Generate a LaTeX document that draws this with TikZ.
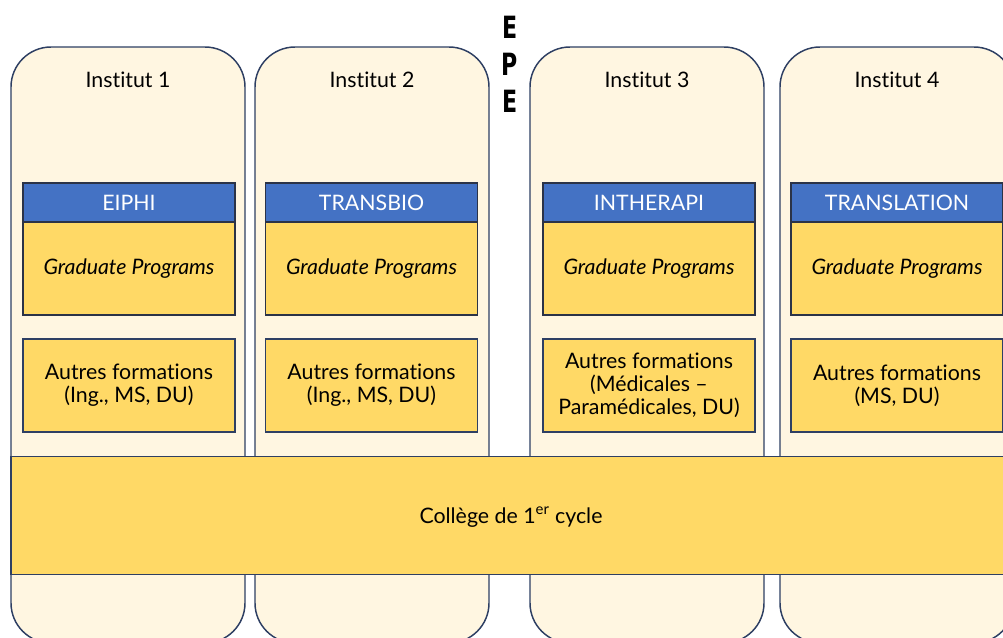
\documentclass[tikz,border=0pt]{standalone}
\usepackage{fontspec}
\setmainfont{Lato}[Ligatures={NoCommon}]
\newfontfamily\epefont{DejaVu Sans}
\definecolor{cream}{HTML}{FFF6E1}
\definecolor{navy}{HTML}{2E3F63}
\definecolor{hdrblue}{HTML}{4472C4}
\definecolor{gold}{HTML}{FFD966}
\definecolor{edge}{HTML}{2B3347}
\begin{document}
\begin{tikzpicture}[x=0.75pt,y=-0.75pt,
  inst/.style={draw=navy, line width=1.1pt, fill=cream, rounded corners=30pt},
  lbl/.style={font=\fontsize{16}{17.5}\selectfont, text=black, align=center},
  hdr/.style={draw=edge, line width=0.8pt, fill=hdrblue, text=white, minimum width=159pt, minimum height=29.25pt, inner sep=0pt, font=\fontsize{16}{17.5}\selectfont},
  grad/.style={draw=edge, line width=0.8pt, fill=gold, minimum width=159pt, minimum height=69.75pt, inner sep=0pt, font=\fontsize{16}{17.5}\selectfont\itshape},
  autre/.style={draw=navy, line width=0.8pt, fill=gold, minimum width=159pt, minimum height=69.75pt, inner sep=0pt, align=center, font=\fontsize{16}{17.3}\selectfont},
  epe/.style={font=\epefont\bfseries\fontsize{23}{23}\selectfont, inner sep=0pt}]
\useasboundingbox (0,0) rectangle (1003,637);
\clip (0,0) rectangle (1003,637);
\fill[white] (0,0) rectangle (1003,637);
% institut columns
\draw[inst] (11,47) rectangle (245,643);
\draw[inst] (255,47) rectangle (489,643);
\draw[inst] (530,47) rectangle (764,643);
\draw[inst] (780,47) rectangle (1014,643);
\node[lbl] (i1) at (128,80) {Institut 1};
\node[lbl] (i2) at (372,80) {Institut 2};
\node[lbl] (i3) at (647,80) {Institut 3};
\node[lbl] (i4) at (897,80) {Institut 4};
% EPE
\node[epe] (e1) at (510,27) {\scalebox{0.72}[1]{E}};
\node[epe] (p1) at (510,64) {\scalebox{0.72}[1]{P}};
\node[epe] (e2) at (510,101) {\scalebox{0.72}[1]{E}};
% headers
\node[hdr] (h1) at (129,202.5) {EIPHI};
\node[hdr] (h2) at (371.5,202.5) {TRANSBIO};
\node[hdr] (h3) at (649,202.5) {INTHERAPI};
\node[hdr] (h4) at (897,202.5) {TRANSLATION};
% graduate programs
\node[grad] (g1) at (129,268.5) {Graduate Programs};
\node[grad] (g2) at (371.5,268.5) {Graduate Programs};
\node[grad] (g3) at (649,268.5) {Graduate Programs};
\node[grad] (g4) at (897,268.5) {Graduate Programs};
% autres formations
\node[autre] (a1) at (129,385.5) {Autres formations\\(Ing., MS, DU)};
\node[autre] (a2) at (371.5,385.5) {Autres formations\\(Ing., MS, DU)};
\node[autre] (a3) at (649,385.5) {Autres formations\\(Médicales –\\Paramédicales, DU)};
\node[autre] (a4) at (897,385.5) {Autres formations\\(MS, DU)};
% college
\draw[draw=navy, line width=0.8pt, fill=gold] (11,456.5) rectangle (1012,574.5);
\node[lbl] (c) at (511,517) {Collège de 1\textsuperscript{er} cycle};
\end{tikzpicture}
\end{document}
